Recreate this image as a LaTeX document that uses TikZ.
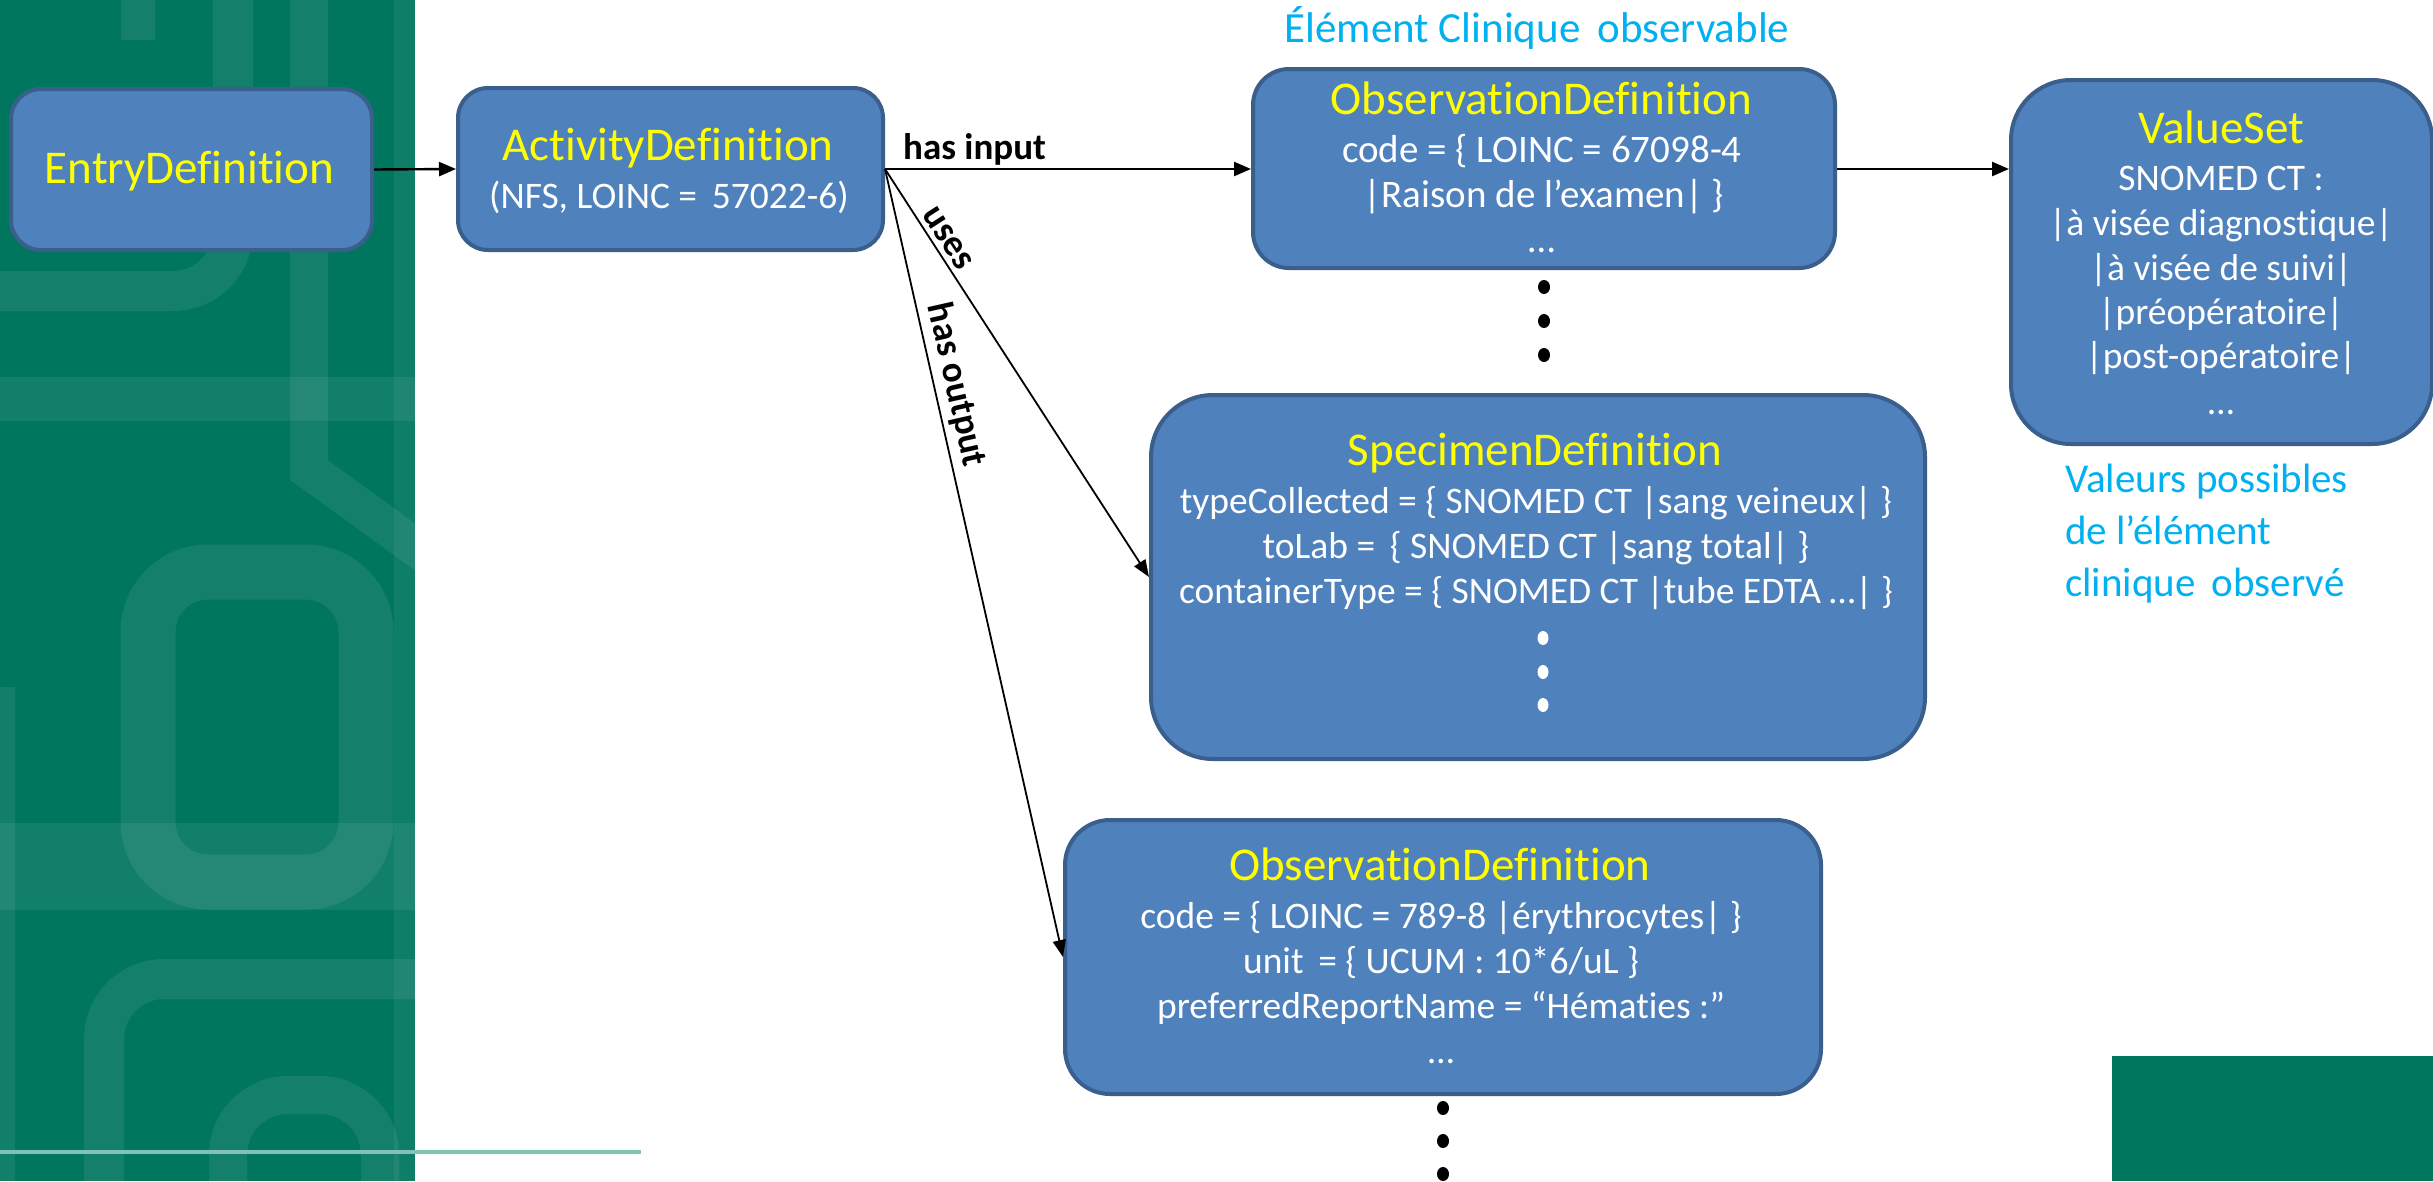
\documentclass[tikz,border=0pt]{standalone}
\usepackage{fontspec}
\setmainfont{Carlito}[Ligatures=NoCommon]
\usetikzlibrary{arrows.meta}
\definecolor{bandgreen}{HTML}{00765F}
\definecolor{boxfill}{HTML}{4F81BD}
\definecolor{boxline}{HTML}{3A5F8C}
\definecolor{titleyellow}{HTML}{FFFF00}
\definecolor{noteblue}{HTML}{00B0F0}
\definecolor{rulegreen}{HTML}{80C2B3}
\newcommand{\fsz}[1]{\fontsize{#1}{1.2\dimexpr#1pt\relax}\selectfont}
\begin{document}
\begin{tikzpicture}[x=1pt,y=-1pt,
  card/.style={draw=boxline, fill=boxfill, line width=4pt, inner sep=0pt, anchor=north west},
  txt/.style={inner sep=0pt, anchor=base},
  title/.style={txt, text=titleyellow, font=\fsz{47}},
  body/.style={txt, text=white, font=\fsz{37.5}},
  note/.style={txt, text=noteblue, font=\fsz{41}},
  rel/.style={inner sep=0pt, text=black, font=\bfseries\fsz{37}},
  link/.style={draw=black, line width=2.4pt, -{Triangle[length=17pt,width=14pt]}},
  thinlink/.style={draw=black, line width=1.8pt, -{Triangle[length=17pt,width=13pt]}},
  deco/.style={draw=white, draw opacity=0.08, line width=#1, rounded corners=60pt},
  deco/.default=44pt
]
% page frame
\useasboundingbox (0,0) rectangle (2433,1181);
\fill[white] (0,0) rectangle (2433,1181);

% green side band with its faint pattern
\fill[bandgreen] (0,0) rectangle (415,1181);
\begin{scope}
  \clip (0,0) rectangle (415,1181);
  \draw[deco=40pt] (-80,-80) rectangle (233,291);
  \draw[deco=38pt, rounded corners=0pt] (309,-10) -- (309,470) -- (440,565);
  \draw[deco=34pt, rounded corners=0pt] (138,-10) -- (138,40);
  \draw[deco=55pt] (148,572) rectangle (366,882);
  \draw[deco=40pt] (104,979) rectangle (470,1320);
  \draw[deco=38pt] (228,1095) rectangle (380,1320);
  \fill[white, opacity=0.07] (0,377) rectangle (415,421);
  \fill[white, opacity=0.07] (0,823) rectangle (415,910);
  \fill[white, opacity=0.07] (0,687) rectangle (15,1181);
  \fill[white, opacity=0.06] (394,0) rectangle (415,1181);
\end{scope}
\draw[rulegreen, line width=4pt] (0,1152) -- (641,1152);

% corner block
\fill[bandgreen] (2112,1056) rectangle (2433,1181);

% boxes
\node[card, minimum width=361pt, minimum height=161pt, rounded corners=30pt] (entry) at (9,87) {};
\node[card, minimum width=425pt, minimum height=162pt, rounded corners=30pt] (act) at (456,86) {};
\node[card, minimum width=582pt, minimum height=199pt, rounded corners=36pt] (obs1) at (1251,67) {};
\node[card, minimum width=421pt, minimum height=364pt, rounded corners=60pt] (vs) at (2009,78) {};
\node[card, minimum width=774pt, minimum height=364pt, rounded corners=62pt] (spec) at (1149,393) {};
\node[card, minimum width=756pt, minimum height=274pt, rounded corners=45pt] (obs2) at (1063,818) {};

% box contents
\node[title] (entryT) at (189.5,183) {EntryDefinition};

\node[title] (actT) at (668,160) {ActivityDefinition};
\node[body] (actB) at (669,208) {(NFS, LOINC =\, 57022-6)};

\node[note, font=\fsz{43}] (obsNote) at (1537,42) {Élément Clinique\, observable};
\node[title] (obs1T) at (1541.5,114) {ObservationDefinition};
\node[body, font=\fsz{39}] (obs1a) at (1542,162) {code = \{ LOINC = 67098-4};
\node[body, font=\fsz{39}] (obs1b) at (1544,207) {|Raison de l’examen| \}};
\node[body, font=\fsz{39}] (obs1c) at (1542,252) {…};

\node[title] (vsT) at (2221,143) {ValueSet};
\node[body] (vsa) at (2221,190) {SNOMED CT :};
\node[body] (vsb) at (2221,235) {|à visée diagnostique|};
\node[body] (vsc) at (2221,280) {|à visée de suivi|};
\node[body] (vsd) at (2221,324) {|préopératoire|};
\node[body] (vse) at (2221,368) {|post-opératoire|};
\node[body] (vsf) at (2221,414) {…};

\node[note, anchor=base west] (vsNote1) at (2065,492) {Valeurs possibles};
\node[note, anchor=base west] (vsNote2) at (2065,544) {de l’élément};
\node[note, anchor=base west] (vsNote3) at (2065,596) {clinique\, observé};

\node[title] (specT) at (1535,465) {SpecimenDefinition};
\node[body] (speca) at (1536,513) {typeCollected = \{ SNOMED CT |sang veineux| \}};
\node[body] (specb) at (1536,558) {toLab =\, \{ SNOMED CT |sang total| \}};
\node[body] (specc) at (1536,603) {containerType = \{ SNOMED CT |tube EDTA …| \}};
\foreach \yy in {638,672,705}
  \fill[white] (1543,\yy) ellipse [x radius=5.5pt, y radius=7pt];

\node[title] (obs2T) at (1440,880) {ObservationDefinition};
\node[body] (obs2a) at (1441,928) {code = \{ LOINC = 789-8 |érythrocytes| \}};
\node[body] (obs2b) at (1441,973) {unit\, = \{ UCUM : 10*6/uL \}};
\node[body] (obs2c) at (1441,1018) {preferredReportName = “Hématies :”};
\node[body] (obs2d) at (1441,1063) {…};

% continuation dots
\foreach \yy in {287,321,355}
  \fill[black] (1544,\yy) ellipse [x radius=6pt, y radius=7pt];
\foreach \yy in {1108,1141,1174}
  \fill[black] (1443,\yy) ellipse [x radius=6pt, y radius=7pt];

% connectors
\draw[link] (entry.east) -- (act.west);
\draw[link] (act.east) -- node[rel, pos=0, anchor=base west, xshift=17pt, yshift=10pt] (hasIn) {has input} (act.east -| obs1.west);
\draw[link] (obs1.east |- act.east) -- (act.east -| vs.west);
\draw[thinlink] (act.east) -- node[rel, sloped, pos=0.19, above=5pt] (uses) {uses} (spec.west);
\draw[thinlink] (act.east) -- node[rel, sloped, pos=0.28, above=5pt] (hasOut) {has output} (obs2.west);
\end{tikzpicture}
\end{document}
